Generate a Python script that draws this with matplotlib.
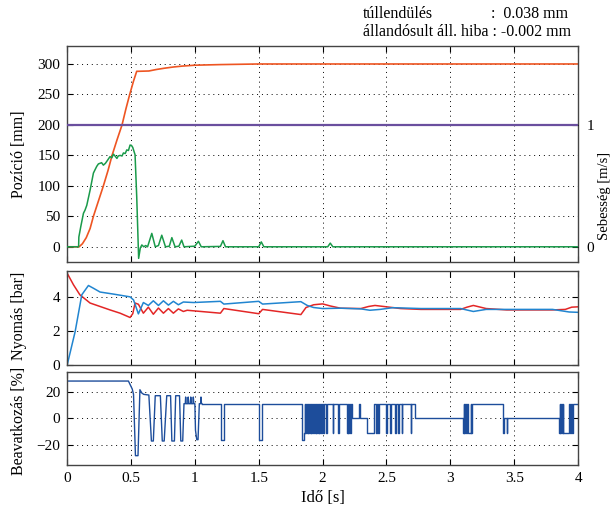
import matplotlib
matplotlib.use('Agg')
import matplotlib.pyplot as plt
import numpy as np

plt.rcParams['font.family'] = ['Liberation Serif', 'DejaVu Serif']
plt.rcParams['font.size'] = 11

# --- position [mm] (top panel, left axis)
pos_t = [0, 0.094, 0.12, 0.15, 0.18, 0.206, 0.245, 0.284, 0.32, 0.352, 0.39, 0.43, 0.46,
         0.49, 0.52, 0.545, 0.56, 0.64, 0.70, 0.76, 0.83, 0.9, 1.0, 1.2, 1.5, 4.0]
pos = [0, 0, 5, 15, 30, 50, 75, 100, 125, 150, 175, 200, 226,
       250, 272, 288, 288, 288.5, 291, 293, 295, 296.5, 298, 299, 300, 300]

# --- reference velocity and measured velocity [m/s] (top panel, right axis)
vref_t = [0, 4]
vref = [1.0, 1.0]
vel_t = [0, 0.09, 0.092, 0.107, 0.128, 0.14, 0.154, 0.18, 0.206, 0.22, 0.232, 0.245, 0.258,
         0.27, 0.284, 0.3, 0.31, 0.336, 0.35, 0.363, 0.375, 0.39, 0.4, 0.415, 0.43, 0.441,
         0.455, 0.467, 0.48, 0.493, 0.505, 0.514, 0.532, 0.545, 0.56, 0.573, 0.585, 0.6,
         0.615, 0.63, 0.663, 0.69, 0.715, 0.741, 0.77, 0.8, 0.82, 0.845, 0.875, 0.897,
         0.915, 1.0, 1.028, 1.05, 1.2, 1.22, 1.24, 1.5, 1.52, 1.54, 2.04, 2.06, 2.08, 4.0]
vel = [0, 0, 0.08, 0.165, 0.275, 0.30, 0.34, 0.465, 0.605, 0.635, 0.66, 0.68, 0.685,
       0.69, 0.67, 0.685, 0.70, 0.74, 0.73, 0.76, 0.745, 0.725, 0.745, 0.75, 0.745, 0.77,
       0.765, 0.795, 0.79, 0.835, 0.83, 0.815, 0.755, 0.41, -0.095, -0.01, 0.015, 0.0,
       0.01, 0.0, 0.11, 0.0, 0.01, 0.095, 0.0, 0.005, 0.075, 0.0, 0.005, 0.055,
       0.0, 0.005, 0.045, 0.0, 0.003, 0.05, 0.0, 0.0, 0.04, 0.0, 0.0, 0.03, 0.0, 0.0]

# --- chamber pressures [bar] (middle panel)
pa_t = [0, 0.05, 0.10, 0.18, 0.258, 0.336, 0.415, 0.493, 0.514, 0.532, 0.558, 0.597,
        0.636, 0.675, 0.715, 0.754, 0.793, 0.832, 0.871, 0.91, 0.94, 1.2, 1.227, 1.5,
        1.53, 1.83, 1.87, 1.93, 2.0, 2.06, 2.14, 2.3, 2.36, 2.41, 2.5, 2.61, 2.77,
        3.08, 3.13, 3.18, 3.28, 3.44, 3.8, 3.9, 3.95, 4.0]
pa = [5.36, 4.68, 4.1, 3.62, 3.42, 3.22, 3.03, 2.78, 3.0, 3.62, 3.55, 3.03,
      3.38, 2.97, 3.33, 3.03, 3.3, 3.03, 3.28, 3.13, 3.2, 3.03, 3.3, 3.0,
      3.25, 2.95, 3.36, 3.52, 3.57, 3.45, 3.32, 3.3, 3.42, 3.48, 3.4, 3.3, 3.25,
      3.25, 3.38, 3.48, 3.3, 3.22, 3.22, 3.25, 3.38, 3.4]
pb_t = [0, 0.063, 0.115, 0.167, 0.206, 0.258, 0.363, 0.493, 0.52, 0.558, 0.597, 0.636,
        0.675, 0.715, 0.754, 0.793, 0.832, 0.871, 0.91, 0.99, 1.2, 1.227, 1.5, 1.53,
        1.83, 1.88, 1.93, 2.0, 2.14, 2.3, 2.37, 2.45, 2.55, 2.77, 3.08, 3.18, 3.28,
        3.8, 3.93, 4.0]
pb = [0, 1.96, 4.1, 4.64, 4.48, 4.26, 4.14, 3.98, 3.8, 2.99, 3.65, 3.48,
      3.75, 3.48, 3.75, 3.5, 3.72, 3.52, 3.68, 3.65, 3.72, 3.56, 3.72, 3.56,
      3.7, 3.48, 3.36, 3.3, 3.32, 3.28, 3.2, 3.25, 3.35, 3.3, 3.3, 3.13, 3.25,
      3.25, 3.1, 3.08]

# --- control signal [%] (bottom panel), continuous part
u_t = [0, 0.48, 0.51, 0.52, 0.535, 0.555, 0.57, 0.585, 0.6, 0.64, 0.66, 0.675, 0.69,
       0.73, 0.745, 0.76, 0.78, 0.81, 0.82, 0.84, 0.85, 0.88, 0.89, 0.905, 0.915, 0.925,
       0.928, 0.932, 0.945, 0.948, 0.952, 0.965, 0.968, 0.972, 0.985, 0.988, 0.992, 1.0,
       1.005, 1.015, 1.025, 1.035, 1.045, 1.048, 1.052, 1.055]
u = [28, 28, 22, 18, -28, -28, 21.5, 19, 18, 17.5, -17, -17, 17,
     17, -17, -17, 17, 17, -17, -17, 17, 17, -17, -17, 11, 11,
     16, 11, 11, 16, 11, 11, 16, 11, 11, 16, 11, 11,
     -9, -16, -16, 11, 11, 16, 11, 11]
# switching part: time of switch and level held after it
sw_t = [1.055, 1.205, 1.225, 1.505, 1.525, 1.835, 1.855, 1.86, 1.865, 1.87, 1.877, 1.882,
        1.888, 1.895, 1.9, 1.907, 1.912, 1.92, 1.925, 1.93, 1.937, 1.945, 1.95, 1.957,
        1.963, 1.97, 1.975, 1.982, 1.99, 1.995, 2.0, 2.008, 2.03, 2.035, 2.08, 2.085,
        2.12, 2.125, 2.19, 2.195, 2.2, 2.207, 2.215, 2.22, 2.228, 2.285, 2.29, 2.35,
        2.405, 2.42, 2.425, 2.435, 2.44, 2.5, 2.505, 2.53, 2.535, 2.57, 2.575, 2.59,
        2.595, 2.62, 2.625, 2.69, 2.695, 2.72, 3.1, 3.105, 3.11, 3.118, 3.125, 3.13,
        3.135, 3.16, 3.165, 3.17, 3.415, 3.42, 3.44, 3.445, 3.85, 3.855, 3.86, 3.865,
        3.872, 3.88, 3.885, 3.93, 3.94, 3.945, 3.955, 3.96, 4.0]
sw_u = [11, -16, 11, -16, 11, -16, -11, 11, -11, 11, -11, 11,
        -11, 11, -11, 11, -11, 11, -11, 11, -11, 11, -11, 11,
        -11, 11, -11, 11, -11, 11, -11, 11, -11, 11, -11, 11,
        -11, 11, -11, 11, -11, 11, -11, 11, 0, 11, 0, -11,
        11, -11, 11, -11, 11, -11, 11, -11, 11, -11, 11, -11,
        11, -11, 11, -11, 11, 0, -11, 11, -11, 11, -11, 11,
        -11, 11, -11, 11, -11, 0, -11, 0, -11, 11, -11, 11,
        -11, 11, -11, 11, -11, 11, -11, 11, 11]

xticks = [0, 0.5, 1, 1.5, 2, 2.5, 3, 3.5, 4]
xlabels = ['0', '0.5', '1', '1.5', '2', '2.5', '3', '3.5', '4']

fig = plt.figure(figsize=(6.1, 5.17), dpi=100)
ax1 = fig.add_axes([0.110, 0.4932, 0.8377, 0.4184])
ax2 = fig.add_axes([0.110, 0.2934, 0.8377, 0.1830])
ax3 = fig.add_axes([0.110, 0.1006, 0.8377, 0.1804])


def style(ax):
    ax.set_xlim(0, 4)
    ax.set_xticks(xticks)
    ax.grid(True, color='k', linestyle=(0, (1, 4)), linewidth=0.7)
    ax.tick_params(direction='in', top=True, right=True, length=4, pad=5, labelsize=11)
    for s in ax.spines.values():
        s.set_color('#444444')
        s.set_linewidth(1)


# top panel
style(ax1)
ax1.plot(pos_t, pos, color='#ee5522', lw=1.2)
ax1.set_ylim(-25, 330)
ax1.set_yticks([0, 50, 100, 150, 200, 250, 300])
ax1.set_xticklabels([])
ax1.set_ylabel('Pozíció [mm]', fontsize=11.5)
ax1.yaxis.set_label_coords(-0.078, 0.5)

ax1b = ax1.twinx()
ax1b.plot(vref_t, vref, color='#6a4f9e', lw=1.6)
ax1b.plot(vel_t, vel, color='#1a9a4a', lw=1.1)
ax1b.set_ylim(-25 / 200, 330 / 200)
ax1b.set_yticks([0, 1])
ax1b.set_yticklabels(['0', '1'])
ax1b.tick_params(direction='in', length=4, pad=6, labelsize=11)
for s in ax1b.spines.values():
    s.set_visible(False)
ax1b.set_ylabel('Sebesség [m/s]', fontsize=10.5)
ax1b.yaxis.set_label_coords(1.039, 0.305)

# middle panel
style(ax2)
ax2.plot(pa_t, pa, color='#e32626', lw=1.1)
ax2.plot(pb_t, pb, color='#2185d0', lw=1.1)
ax2.set_ylim(0, 5.5)
ax2.set_yticks([0, 2, 4])
ax2.set_xticklabels([])
ax2.set_ylabel('Nyomás [bar]', fontsize=11.5)
ax2.yaxis.set_label_coords(-0.078, 0.52)

# bottom panel
style(ax3)
ax3.plot(u_t, u, color='#1d4d9b', lw=1.0)
ax3.step(sw_t, sw_u, where='post', color='#1d4d9b', lw=1.0)
ax3.set_ylim(-35, 35)
ax3.set_yticks([-20, 0, 20])
ax3.set_xticklabels(xlabels)
ax3.set_ylabel('Beavatkozás [%]', fontsize=11.5)
ax3.yaxis.set_label_coords(-0.078, 0.47)
ax3.set_xlabel('Idő [s]', fontsize=12)

fig.text(363 / 610, 1 - 14 / 517, 'túllendülés', fontsize=11.5, va='center', ha='left')
fig.text(491 / 610, 1 - 14 / 517, ':  0.038 mm', fontsize=11.5, va='center', ha='left')
fig.text(363 / 610, 1 - 32 / 517, 'állandósult áll. hiba : -0.002 mm', fontsize=11.5,
         va='center', ha='left')

fig.savefig('out.png', dpi=100)
